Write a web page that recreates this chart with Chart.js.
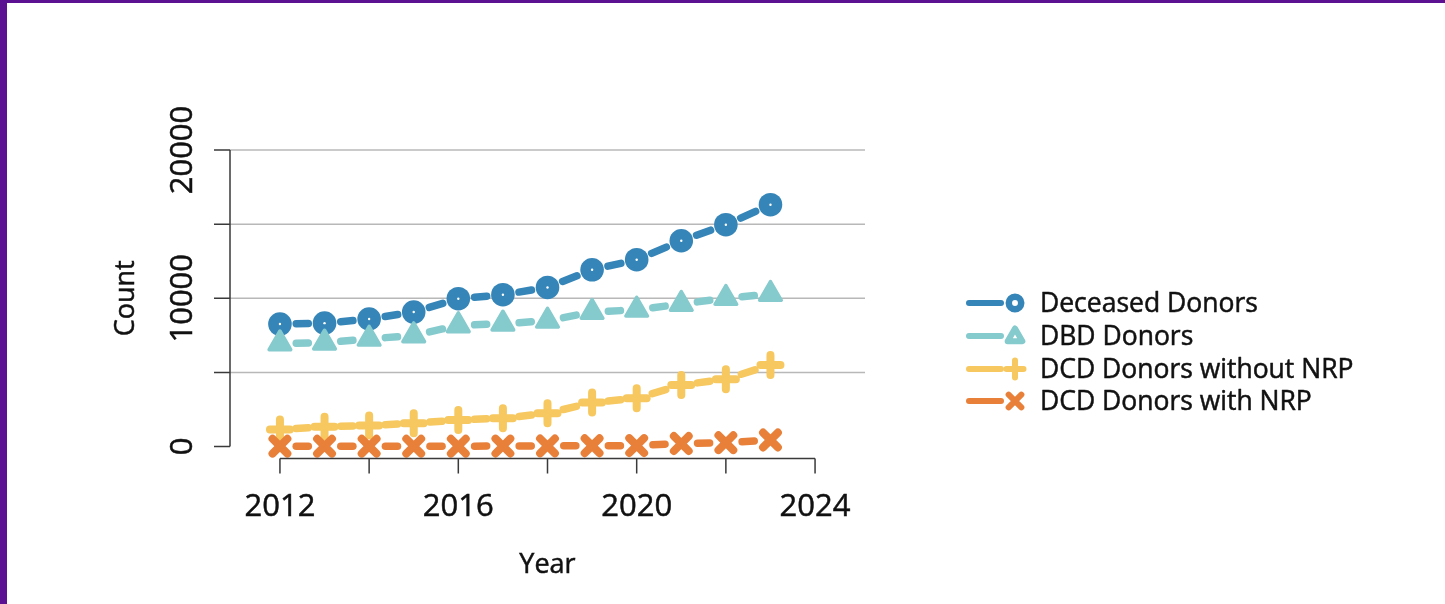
<!DOCTYPE html>
<html lang="en">
<head>
    <meta charset="UTF-8">
    <title>Deceased Donors by Year</title>
    <style>
        body { margin: 0; background: #fff; overflow: hidden; }
        #wrap { position: relative; width: 1445px; height: 604px; }
        canvas { position: absolute; left: 0; top: 0; }
        .edge { position: absolute; background: #5b1191; pointer-events: none; }
    </style>
</head>
<body>
    <div id="wrap">
        <canvas id="donorChart" width="1445" height="604"></canvas>
        <div class="edge" style="left:0;top:0;width:1445px;height:3px"></div>
        <div class="edge" style="left:0;top:0;width:7px;height:604px"></div>
    </div>

    <script src="https://cdn.jsdelivr.net/npm/chart.js@4.4.0/dist/chart.umd.min.js"></script>
    <script>
        // values
        const years = [2012, 2013, 2014, 2015, 2016, 2017, 2018, 2019, 2020, 2021, 2022, 2023];
        const deceasedDonors = [8260, 8320, 8600, 9070, 9970, 10240, 10730, 11920, 12600, 13880, 14960, 16310];
        const dbdDonors = [6950, 7000, 7260, 7490, 8170, 8280, 8480, 9070, 9220, 9610, 10010, 10280];
        const dcdWithoutNrp = [1150, 1340, 1410, 1570, 1790, 1910, 2240, 2960, 3260, 4150, 4540, 5500];
        const dcdWithNrp = [20, 20, 20, 20, 20, 30, 40, 50, 60, 200, 260, 440];

        const seriesNames = ['Deceased Donors', 'DBD Donors', 'DCD Donors without NRP', 'DCD Donors with NRP'];
        const seriesColors = ['#3585b8', '#85cacd', '#f6c85f', '#e8803a'];

        const yTicks = [0, 5000, 10000, 15000, 20000];
        const yLabels = [0, 10000, 20000];
        const yGrid = [5000, 10000, 15000, 20000];
        const xTicks = [2012, 2014, 2016, 2018, 2020, 2022, 2024];
        const xLabels = [2012, 2016, 2020, 2024];

        const FONT = "'Open Sans', 'Noto Sans', sans-serif";
        const LINE_W = 7.5;
        const GAP = 12.5;   // space left open round each point (like type="b")

        function pts(vals) {
            return years.map((yr, i) => ({ x: yr, y: vals[i] }));
        }

        // each segment is one piece that stops short of both points
        function segLen(c) {
            return Math.hypot(c.p1.x - c.p0.x, c.p1.y - c.p0.y);
        }
        function segDash(c) {
            const d = Math.max(0.01, segLen(c) - 2 * GAP - LINE_W);
            return [d, 3000];
        }
        function segOffset(c) {
            const d = segDash(c)[0];
            const a = GAP + LINE_W / 2;
            // alternate by a whole period so neighbouring segments never merge
            return (d + 3000) * (1 + c.p0DataIndex % 2) - a;
        }

        function drawText(ctx, txt, x, y) {
            ctx.fillText(txt, x, y);
            ctx.strokeText(txt, x, y);
        }

        // R-style axes, gridlines and legend
        const baseAxes = {
            id: 'baseAxes',
            beforeDatasetsDraw(chart) {
                const { ctx, chartArea, scales: { y } } = chart;
                ctx.save();
                ctx.strokeStyle = '#b8b8b8';
                ctx.lineWidth = 1.5;
                yGrid.forEach(v => {
                    const py = y.getPixelForValue(v);
                    ctx.beginPath();
                    ctx.moveTo(chartArea.left, py);
                    ctx.lineTo(chartArea.right, py);
                    ctx.stroke();
                });
                ctx.restore();
                // rounded ends for the point glyphs
                ctx.lineJoin = 'round';
                ctx.lineCap = 'round';
            },
            afterDatasetsDraw(chart) {
                const { ctx } = chart;
                ctx.lineJoin = 'miter';
                ctx.lineCap = 'butt';
                // little white centre on the deceased circles
                const meta = chart.getDatasetMeta(0);
                ctx.save();
                ctx.fillStyle = '#ffffff';
                meta.data.forEach(p => {
                    ctx.beginPath();
                    ctx.arc(p.x, p.y, 1.2, 0, Math.PI * 2);
                    ctx.fill();
                });
                ctx.restore();
            },
            afterDraw(chart) {
                const { ctx, chartArea, scales: { x, y } } = chart;
                ctx.save();
                ctx.strokeStyle = '#3a3a3a';
                ctx.lineWidth = 1.5;

                // y axis
                const left = chartArea.left;
                ctx.beginPath();
                ctx.moveTo(left, y.getPixelForValue(yTicks[0]));
                ctx.lineTo(left, y.getPixelForValue(yTicks[yTicks.length - 1]));
                yTicks.forEach(v => {
                    const py = y.getPixelForValue(v);
                    ctx.moveTo(left - 16, py);
                    ctx.lineTo(left, py);
                });
                ctx.stroke();

                // x axis, set a bit below the plot
                const ax = y.getPixelForValue(0) + 12;
                ctx.beginPath();
                ctx.moveTo(x.getPixelForValue(xTicks[0]), ax);
                ctx.lineTo(x.getPixelForValue(xTicks[xTicks.length - 1]), ax);
                xTicks.forEach(v => {
                    const px = x.getPixelForValue(v);
                    ctx.moveTo(px, ax);
                    ctx.lineTo(px, ax + 15);
                });
                ctx.stroke();

                ctx.fillStyle = '#111';
                ctx.strokeStyle = '#111';
                ctx.lineWidth = 0.5;
                ctx.font = '31px ' + FONT;
                ctx.textAlign = 'center';
                ctx.textBaseline = 'middle';
                yLabels.forEach(v => {
                    ctx.save();
                    ctx.translate(left - 47, y.getPixelForValue(v));
                    ctx.rotate(-Math.PI / 2);
                    drawText(ctx, String(v), 0, 0);
                    ctx.restore();
                });
                xLabels.forEach(v => {
                    drawText(ctx, String(v), x.getPixelForValue(v), ax + 49);
                });

                // axis titles
                ctx.font = '27px ' + FONT;
                drawText(ctx, 'Year', (chartArea.left + chartArea.right) / 2, 565);
                ctx.save();
                ctx.translate(126, (chartArea.top + chartArea.bottom) / 2);
                ctx.rotate(-Math.PI / 2);
                drawText(ctx, 'Count', 0, 0);
                ctx.restore();

                // legend
                const rows = [303, 336, 369, 401];
                const mx = 1015;
                ctx.font = '26.5px ' + FONT;
                ctx.textAlign = 'left';
                ctx.lineCap = 'round';
                ctx.lineJoin = 'round';
                rows.forEach((ry, i) => {
                    const col = seriesColors[i];
                    ctx.strokeStyle = col;
                    ctx.fillStyle = col;
                    ctx.lineWidth = 6;
                    ctx.beginPath();
                    ctx.moveTo(969, ry);
                    ctx.lineTo(1001, ry);
                    ctx.stroke();
                    if (i === 0) {
                        ctx.lineWidth = 6.5;
                        ctx.fillStyle = '#fff';
                        ctx.beginPath();
                        ctx.arc(mx, ry, 6.2, 0, Math.PI * 2);
                        ctx.fill();
                        ctx.stroke();
                    } else if (i === 1) {
                        ctx.fillStyle = '#fff';
                        Chart.helpers.drawPoint(ctx, { pointStyle: 'triangle', radius: 8.5, rotation: 0, borderWidth: 6.5 }, mx, ry + 1);
                    } else {
                        Chart.helpers.drawPoint(ctx, {
                            pointStyle: i === 2 ? 'cross' : 'crossRot',
                            radius: i === 2 ? 8.5 : 9, rotation: 0, borderWidth: 6.5
                        }, mx, ry);
                    }
                    ctx.fillStyle = '#111';
                    ctx.strokeStyle = '#111';
                    ctx.lineWidth = 0.5;
                    drawText(ctx, seriesNames[i], 1040, ry + 1);
                });
                ctx.restore();
            }
        };

        function makeSet(i, vals, style, radius, bw, order) {
            return {
                label: seriesNames[i],
                data: pts(vals),
                borderColor: seriesColors[i],
                backgroundColor: seriesColors[i],
                borderWidth: LINE_W,
                borderCapStyle: 'round',
                borderJoinStyle: 'round',
                segment: { borderDash: segDash, borderDashOffset: segOffset },
                pointStyle: style,
                pointRadius: radius,
                pointBorderWidth: bw,
                pointBackgroundColor: seriesColors[i],
                pointBorderColor: seriesColors[i],
                tension: 0,
                order: order
            };
        }

        const ctx = document.getElementById('donorChart').getContext('2d');
        new Chart(ctx, {
            type: 'line',
            data: {
                datasets: [
                    makeSet(0, deceasedDonors, 'circle', 11.8, 0, 4),
                    makeSet(1, dbdDonors, 'triangle', 12.5, 3.5, 3),
                    makeSet(2, dcdWithoutNrp, 'cross', 10, 8, 2),
                    makeSet(3, dcdWithNrp, 'crossRot', 10.5, 8, 1)
                ]
            },
            options: {
                responsive: false,
                animation: false,
                devicePixelRatio: 1,
                clip: false,
                layout: { padding: { left: 230, top: 150, right: 580, bottom: 157.5 } },
                plugins: {
                    legend: { display: false },
                    tooltip: { enabled: false }
                },
                scales: {
                    x: { type: 'linear', min: 2010.88, max: 2025.12, display: false },
                    y: { min: 0, max: 20000, display: false }
                }
            },
            plugins: [baseAxes]
        });
    </script>
</body>
</html>
